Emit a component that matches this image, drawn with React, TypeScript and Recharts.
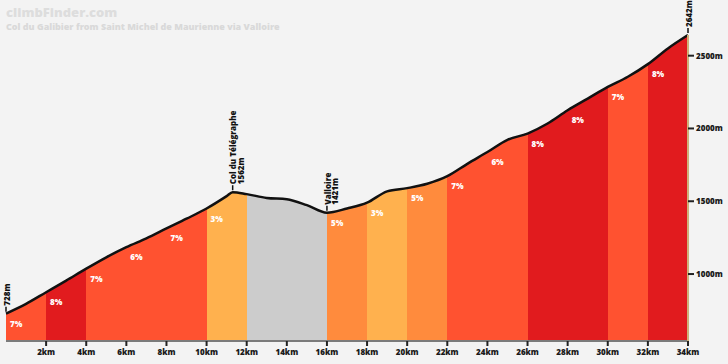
import React from 'react'
import {
  ComposedChart,
  Area,
  XAxis,
  YAxis,
  ReferenceDot,
} from 'recharts'

// profile
const distanceKm = [
  0, 1, 2, 3, 4, 5, 6, 7, 8, 9, 10, 11, 11.3, 12, 13, 14, 15, 16, 17, 18, 19,
  20, 21, 22, 23, 24, 25, 26, 27, 28, 29, 30, 31, 32, 33, 34,
]
const elevationM = [
  728, 795, 875, 955, 1037, 1115, 1185, 1245, 1313, 1380, 1450, 1535, 1562,
  1549, 1523, 1514, 1473, 1421, 1450, 1490, 1568, 1590, 1620, 1672, 1757,
  1838, 1922, 1965, 2034, 2125, 2205, 2285, 2355, 2442, 2550, 2642,
]

// 2km sections and their gradient (null = descent, no label)
const sectionStartKm = [0, 2, 4, 6, 8, 10, 12, 14, 16, 18, 20, 22, 24, 26, 28, 30, 32]
const sectionGrade = [7, 8, 7, 6, 7, 3, null, null, 5, 3, 5, 7, 6, 8, 8, 7, 8]

const kmTicks = [2, 4, 6, 8, 10, 12, 14, 16, 18, 20, 22, 24, 26, 28, 30, 32, 34]
const elevTicks = [1000, 1500, 2000, 2500]

const summits = [
  { km: 0, name: '', elev: 728 },
  { km: 11.3, name: 'Col du Télégraphe', elev: 1562 },
  { km: 16, name: 'Valloire', elev: 1421 },
  { km: 34, name: '', elev: 2642 },
]

const TOTAL_KM = 34
const FONT = '"Open Sans", "DejaVu Sans", sans-serif'

function gradeColor(g: number | null) {
  if (g === null) return '#cccccc'
  if (g <= 3) return '#ffb14e'
  if (g <= 5) return '#ff8b3d'
  if (g <= 7) return '#ff5230'
  return '#e11b1e'
}

const data = distanceKm.map((km, i) => ({ km, elev: elevationM[i] }))

const elevAt = (km: number) => elevationM[distanceKm.indexOf(km)]

const GradeLabel = ({ cx, cy, grade }: any) => (
  <text
    x={cx + 4}
    y={cy + 13}
    fill="#fff"
    fontSize={8}
    fontWeight={800}
    fontFamily={FONT}
  >
    {grade}%
  </text>
)

const SummitMark = ({ cx, cy, name, elev }: any) => {
  const ty = cy - 8
  return (
    <g>
      <line x1={cx} y1={cy - 2} x2={cx} y2={cy - 7} stroke="#111" strokeWidth={1.5} />
      <text
        x={cx + 1}
        y={ty}
        transform={`rotate(-90, ${cx + 1}, ${ty})`}
        fill="#111"
        fontSize={8}
        fontWeight={800}
        fontFamily={FONT}
      >
        {name ? (
          <>
            <tspan x={cx + 1} dy={2.8}>{name}</tspan>
            <tspan x={cx + 1} dy={7.2}>{elev}m</tspan>
          </>
        ) : (
          <tspan x={cx + 1} dy={2.8}>{elev}m</tspan>
        )}
      </text>
    </g>
  )
}

export default function App() {
  return (
    <div
      style={{
        position: 'absolute',
        left: 0,
        top: 0,
        width: 728,
        height: 364,
        background: '#f3f3f3',
        fontFamily: FONT,
        overflow: 'hidden',
      }}
    >
      <div
        style={{
          position: 'absolute',
          left: 6,
          top: 6,
          fontSize: 13,
          lineHeight: '13px',
          fontWeight: 800,
          color: '#dddddd',
        }}
      >
        climbFinder.com
      </div>
      <div
        style={{
          position: 'absolute',
          left: 6,
          top: 22,
          fontSize: 9,
          lineHeight: '9px',
          fontWeight: 800,
          color: '#d9d9d9',
          whiteSpace: 'nowrap',
        }}
      >
        Col du Galibier from Saint Michel de Maurienne via Valloire
      </div>

      <ComposedChart
        width={728}
        height={364}
        data={data}
        margin={{ top: 35, right: 0, bottom: 0, left: 6 }}
        style={{ position: 'absolute', left: 0, top: 0 }}
      >
        <defs>
          <linearGradient id="gradeFill" x1="0" y1="0" x2="1" y2="0">
            {sectionStartKm.map((s, i) => {
              const e = i + 1 < sectionStartKm.length ? sectionStartKm[i + 1] : TOTAL_KM
              const c = gradeColor(sectionGrade[i])
              return (
                <React.Fragment key={s}>
                  <stop offset={s / TOTAL_KM} stopColor={c} />
                  <stop offset={e / TOTAL_KM} stopColor={c} />
                </React.Fragment>
              )
            })}
          </linearGradient>
        </defs>

        <XAxis
          dataKey="km"
          type="number"
          domain={[0, TOTAL_KM]}
          ticks={kmTicks}
          height={23}
          tickFormatter={(v) => `${v}km`}
          axisLine={{ stroke: '#7b7b7b', strokeWidth: 2 }}
          tickLine={{ stroke: '#222', strokeWidth: 2 }}
          tickSize={5}
          tickMargin={3}
          tick={{ fill: '#1a1a1a', fontSize: 8, fontWeight: 800, fontFamily: FONT }}
          interval={0}
        />
        <YAxis
          orientation="right"
          type="number"
          domain={[540, 2642]}
          ticks={elevTicks}
          width={40}
          tickFormatter={(v) => `${v}m`}
          axisLine={{ stroke: '#cdb27a', strokeWidth: 2 }}
          tickLine={{ stroke: '#222', strokeWidth: 2 }}
          tickSize={6}
          tickMargin={2}
          tick={{ fill: '#1a1a1a', fontSize: 8, fontWeight: 800, fontFamily: FONT }}
        />

        <Area
          type="monotone"
          dataKey="elev"
          stroke="#111"
          strokeWidth={2.5}
          fill="url(#gradeFill)"
          fillOpacity={1}
          isAnimationActive={false}
          dot={false}
          activeDot={false}
        />

        {sectionStartKm.map((s, i) =>
          sectionGrade[i] === null ? null : (
            <ReferenceDot
              key={'g' + s}
              x={s}
              y={elevAt(s)}
              r={0}
              shape={(p: any) => <GradeLabel {...p} grade={sectionGrade[i]} />}
            />
          )
        )}

        {summits.map((m) => (
          <ReferenceDot
            key={'s' + m.km}
            x={m.km}
            y={m.elev}
            r={0}
            shape={(p: any) => <SummitMark {...p} name={m.name} elev={m.elev} />}
          />
        ))}
      </ComposedChart>
    </div>
  )
}
